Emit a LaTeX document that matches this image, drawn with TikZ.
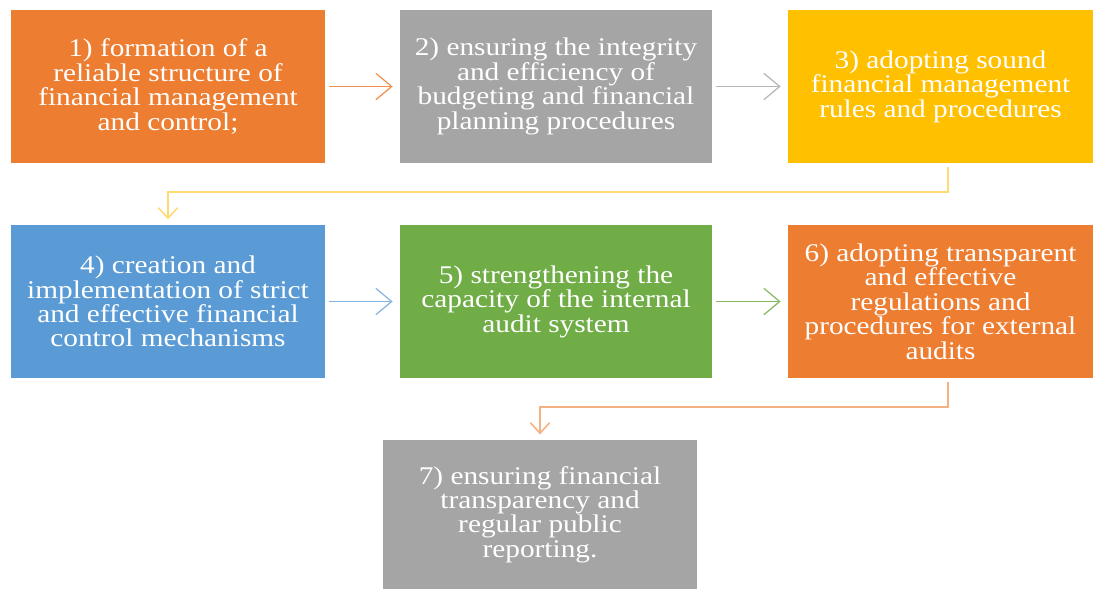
\documentclass[tikz,border=0pt]{standalone}
\usepackage{fontspec}
\setmainfont{Liberation Serif}[FakeStretch=1.15]
\usepackage{xcolor}
\usetikzlibrary{arrows.meta,positioning,calc}

\definecolor{cOrange}{HTML}{ED7D31}
\definecolor{cGray}{HTML}{A5A5A5}
\definecolor{cGold}{HTML}{FFC000}
\definecolor{cBlue}{HTML}{5B9BD5}
\definecolor{cGreen}{HTML}{70AD47}

\begin{document}
\begin{tikzpicture}[
    x=0.02cm, y=-0.02cm,
    stage/.style={fill=#1, text=white, minimum width=6.28cm, minimum height=3.06cm,
      align=center, inner sep=2pt, font=\fontsize{14.5}{13.9}\selectfont},
    flow/.style={draw=#1, line width=0.7pt, -{Straight Barb[length=9pt,width=15pt,line width=0.7pt]},
      shorten <=2pt, shorten >=4pt},
    elbow/.style={draw=#1, line width=1.1pt, -{Straight Barb[length=6pt,width=11pt,line width=0.9pt]},
      shorten <=2pt, shorten >=3pt}
]

% ===== frame =====
\path[use as bounding box] (0,0) rectangle (1093,589);

% ===== ROW 1 =====
\node[stage=cOrange] (b1) at (168,86.5) {1) formation of a\\reliable structure of\\financial management\\and control;};
\node[stage=cGray, minimum width=6.24cm] (b2) at (556,86.5) {2) ensuring the integrity\\and efficiency of\\budgeting and financial\\planning procedures};
\node[stage=cGold, minimum width=6.1cm] (b3) at (940.5,86.5) {3) adopting sound\\financial management\\rules and procedures};

% ===== ROW 2 =====
\node[stage=cBlue] (b4) at (168,301.5) {4) creation and\\implementation of strict\\and effective financial\\control mechanisms};
\node[stage=cGreen, minimum width=6.24cm] (b5) at (556,301.5) {5) strengthening the\\capacity of the internal\\audit system};
\node[stage=cOrange, minimum width=6.1cm] (b6) at (940.5,301.5) {6) adopting transparent\\and effective\\regulations and\\procedures for external\\audits};

% ===== ROW 3 =====
\node[stage=cGray, minimum height=2.98cm] (b7) at (540,514.5) {7) ensuring financial\\transparency and\\regular public\\reporting.};

% ===== ARROWS =====
\draw[flow=cOrange!85] (b1) -- (b2);
\draw[flow=cGray!80] (b2) -- (b3);
\draw[flow=cBlue!75] (b4) -- (b5);
\draw[flow=cGreen!85] (b5) -- (b6);

% ===== ELBOWS =====
\draw[elbow=cGold!55] ([xshift=4.5]b3.south) -- ++(0,29) -| (b4.north);
\draw[elbow=cOrange!60] ([xshift=4.5]b6.south) -- ++(0,29) -| (b7.north);

\end{tikzpicture}
\end{document}
